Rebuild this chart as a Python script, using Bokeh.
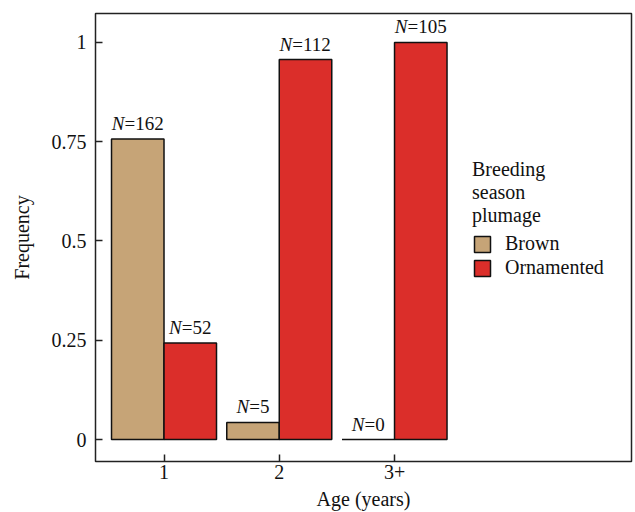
from bokeh.plotting import figure
from bokeh.models import ColumnDataSource, Range1d, FixedTicker, Legend, LegendItem
from bokeh.core.properties import value
from bokeh.embed import file_html
from bokeh.resources import INLINE

# ---- data ----
ages = [1, 2, 3]
age_labels = ["1", "2", "3+"]
brown_freq = [0.757, 0.043, 0.0]
orn_freq = [0.243, 0.957, 1.0]
brown_n = ["162", "5", "0"]
orn_n = ["52", "112", "105"]
y_ticks = [0, 0.25, 0.5, 0.75, 1]
y_tick_labels = ["0", "0.25", "0.5", "0.75", "1"]

FONT = "Liberation Serif"
FS = 20
BROWN = "#C6A477"
RED = "#DB2E2A"
bw = 0.4555

p = figure(width=635, height=512, output_backend="svg", toolbar_location=None,
           x_range=Range1d(0.4056, 5.056), y_range=Range1d(-0.0554, 1.073),
           min_border_left=95, min_border_right=4, min_border_top=13, min_border_bottom=51)
p.grid.visible = False
p.outline_line_color = "#222222"
p.outline_line_width = 1.5
p.background_fill_color = "white"
p.border_fill_color = "white"

src_b = ColumnDataSource(dict(x=[a - bw / 2 for a in ages], top=brown_freq,
                              n=brown_n))
src_r = ColumnDataSource(dict(x=[a + bw / 2 for a in ages], top=orn_freq,
                              n=orn_n))

rb = p.vbar(x="x", top="top", bottom=0, width=bw, source=src_b, fill_color=BROWN,
            line_color="#111111", line_width=1.5)
rr = p.vbar(x="x", top="top", bottom=0, width=bw, source=src_r, fill_color=RED,
            line_color="#111111", line_width=1.5)

# N labels: italic "N" + upright "=value", centred on bar
NFS = 19
def offsets(strings):
    w_n = 0.667 * NFS
    return [-(((0.564 + 0.5 * len(s)) * NFS) - w_n) / 2 for s in strings]

for src, strs in ((src_b, brown_n), (src_r, orn_n)):
    src.data["xo"] = offsets(strs)
    src.data["rest"] = ["=" + s for s in strs]
    src.data["nn"] = ["N"] * len(strs)
    p.text(x="x", y="top", text="nn", source=src, x_offset="xo", y_offset=-5,
           text_align="right", text_baseline="bottom",
           text_font=value(FONT), text_font_style="italic",
           text_font_size=f"{NFS}px", text_color="#111111")
    p.text(x="x", y="top", text="rest", source=src, x_offset="xo", y_offset=-5,
           text_align="left", text_baseline="bottom",
           text_font=value(FONT), text_font_size=f"{NFS}px", text_color="#111111")

# axes
for ax in (p.xaxis[0], p.yaxis[0]):
    ax.axis_line_color = None
    ax.major_tick_in = 7
    ax.major_tick_out = 0
    ax.minor_tick_line_color = None
    ax.major_tick_line_color = "#222222"
    ax.major_tick_line_width = 1.5
    ax.major_label_text_font = FONT
    ax.major_label_text_font_size = f"{FS}px"
    ax.major_label_text_color = "#111111"
    ax.axis_label_text_font = FONT
    ax.axis_label_text_font_size = f"{FS}px"
    ax.axis_label_text_font_style = "normal"
    ax.axis_label_text_color = "#111111"

p.yaxis.major_label_standoff = 9
p.xaxis.major_label_standoff = 3
p.xaxis.ticker = FixedTicker(ticks=ages)
p.xaxis.major_label_overrides = {a: l for a, l in zip(ages, age_labels)}
p.yaxis.ticker = FixedTicker(ticks=y_ticks)
p.yaxis.major_label_overrides = {t: l for t, l in zip(y_ticks, y_tick_labels)}
p.xaxis.axis_label = "Age (years)"
p.yaxis.axis_label = "Frequency"
p.xaxis.axis_label_standoff = 6
p.xaxis.axis_label_text_line_height = 0.7
p.yaxis.axis_label_standoff = 16

legend = Legend(items=[LegendItem(label="Brown", renderers=[rb]),
                       LegendItem(label="Ornamented", renderers=[rr])],
                title="Breeding\nseason\nplumage",
                location=(377, 182))
legend.title_text_font = FONT
legend.title_text_font_size = f"{FS}px"
legend.title_text_font_style = "normal"
legend.title_text_color = "#111111"
legend.title_text_line_height = 1.15
legend.title_standoff = 5
legend.label_text_font = FONT
legend.label_text_font_size = f"{FS}px"
legend.label_text_color = "#111111"
legend.glyph_width = 20
legend.glyph_height = 20
legend.label_standoff = 13
legend.spacing = 1
legend.padding = 0
legend.margin = 0
legend.border_line_color = None
legend.background_fill_alpha = 0
p.add_layout(legend)

open("out.html", "w").write(file_html(p, INLINE))
